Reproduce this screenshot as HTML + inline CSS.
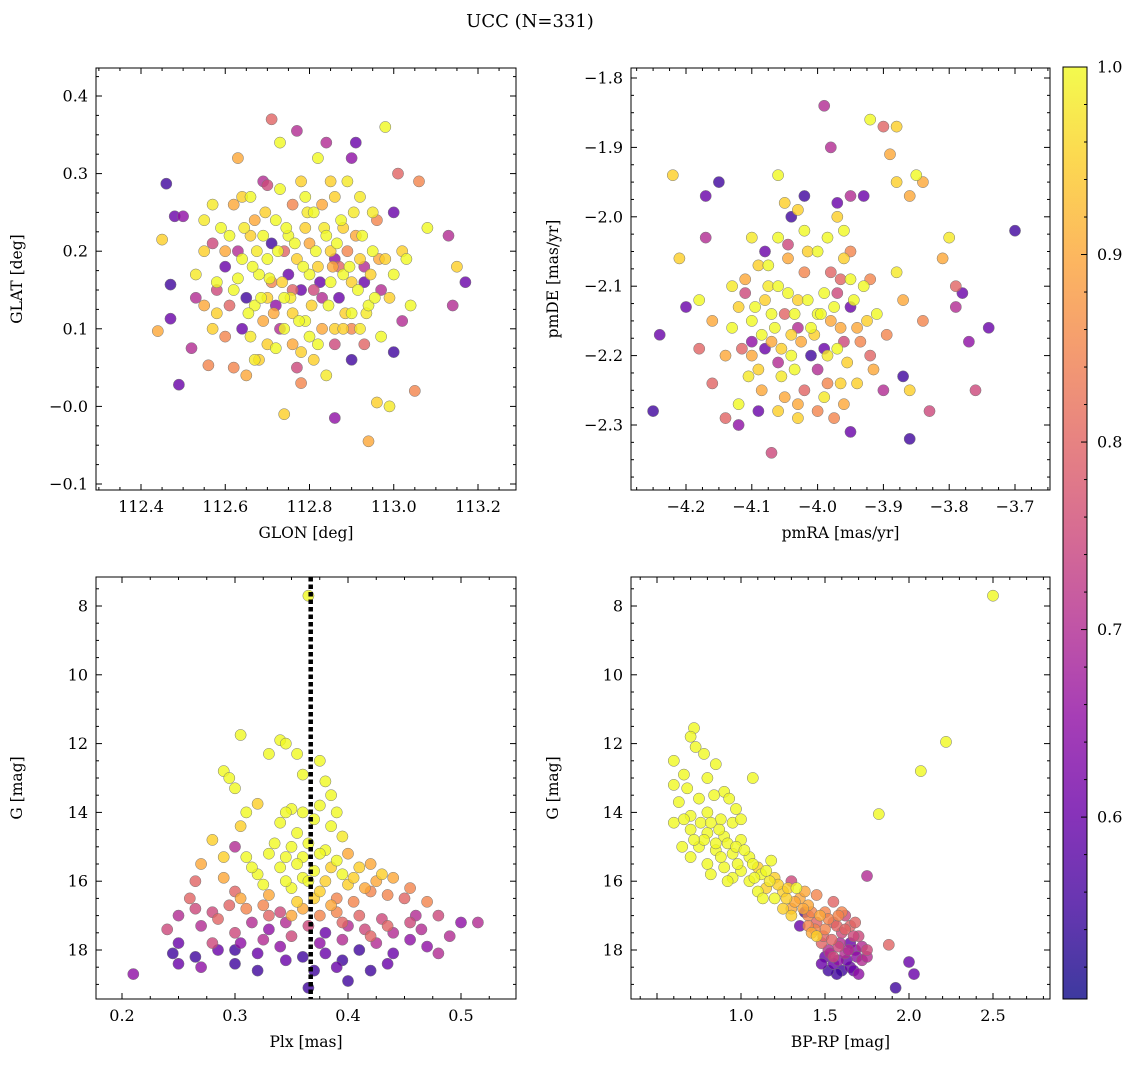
<!DOCTYPE html>
<html><head><meta charset="utf-8">
<style>
html,body{margin:0;padding:0;background:#fff;}
svg{display:block;font-family:"DejaVu Serif","Liberation Serif",serif;}
</style></head>
<body>
<svg id="chart" width="1136" height="1067" viewBox="0 0 1136 1067" xmlns="http://www.w3.org/2000/svg">
<text x="530" y="27" font-size="18" text-anchor="middle">UCC (N=331)</text>
<g id="layer"></g>
</svg>
<script>
// ---- data: [x, y, probability] ----
const glonGlat = [
[112.46,0.287,0.55],[112.47,0.157,0.55],[112.44,0.097,0.9],[112.45,0.215,0.95],[112.48,0.245,0.6],[112.50,0.245,0.65],[112.49,0.028,0.6],[112.47,0.113,0.6],[112.52,0.075,0.7],[112.53,0.17,0.98],[112.55,0.13,0.9],[112.55,0.24,0.98],[112.56,0.053,0.85],[112.57,0.21,0.75],[112.58,0.12,0.95],[112.6,0.18,0.6],[112.61,0.13,0.8],[112.62,0.26,0.9],[112.63,0.32,0.9],[112.63,0.2,0.7],[112.64,0.1,0.6],[112.65,0.04,0.9],[112.66,0.27,1],[112.67,0.24,0.9],[112.68,0.17,1],[112.68,0.06,0.95],[112.69,0.22,1],[112.7,0.14,0.95],[112.7,0.285,0.75],[112.71,0.37,0.8],[112.72,0.075,1],[112.73,0.34,1],[112.74,-0.01,0.95],[112.74,0.2,0.8],[112.75,0.17,0.6],[112.76,0.12,0.95],[112.77,0.355,0.7],[112.78,0.03,0.85],[112.78,0.29,0.95],[112.79,0.23,0.95],[112.8,0.17,1],[112.81,0.06,0.95],[112.82,0.32,1],[112.83,0.14,0.7],[112.83,0.26,0.9],[112.84,0.34,0.7],[112.85,0.2,0.95],[112.86,-0.015,0.65],[112.86,0.1,0.95],[112.87,0.18,0.8],[112.88,0.23,0.95],[112.89,0.29,0.98],[112.9,0.12,1],[112.9,0.32,0.65],[112.91,0.34,0.6],[112.92,0.19,0.95],[112.93,0.08,0.8],[112.94,-0.045,0.9],[112.95,0.25,0.98],[112.96,0.005,0.95],[112.97,0.15,0.7],[112.98,0.36,1],[112.99,0.0,0.98],[113.0,0.25,0.6],[113.0,0.07,0.55],[113.01,0.3,0.8],[113.02,0.2,0.95],[113.04,0.13,1],[113.05,0.02,0.85],[113.06,0.29,0.85],[113.08,0.23,1],[113.13,0.22,0.7],[113.14,0.13,0.7],[113.15,0.18,0.95],[113.17,0.16,0.6],
[112.62,0.15,1],[112.64,0.19,1],[112.66,0.22,0.95],[112.67,0.13,1],[112.69,0.11,0.9],[112.7,0.19,1],[112.71,0.16,0.85],[112.72,0.24,1],[112.73,0.1,0.7],[112.74,0.14,1],[112.75,0.22,1],[112.76,0.08,0.9],[112.77,0.19,0.95],[112.78,0.15,0.6],[112.79,0.11,1],[112.8,0.21,0.9],[112.81,0.25,1],[112.82,0.18,0.95],[112.83,0.1,0.9],[112.84,0.22,1],[112.85,0.16,1],[112.86,0.27,0.95],[112.87,0.14,0.6],[112.88,0.17,1],[112.89,0.2,0.85],[112.9,0.16,0.95],[112.91,0.22,0.9],[112.92,0.1,0.98],[112.93,0.18,0.7],[112.94,0.13,1],[112.95,0.2,1],[112.96,0.24,0.85],[112.97,0.09,1],[112.98,0.19,0.95],[113.0,0.17,1],[113.02,0.11,0.7],[112.6,0.09,0.85],[112.58,0.16,1],[112.57,0.26,0.98],[112.65,0.14,0.55],[112.67,0.06,0.98],[112.72,0.13,0.65],[112.8,0.09,1],[112.86,0.08,0.75],[112.9,0.06,0.55],[112.76,0.26,0.85],[112.69,0.29,0.7],[112.84,0.04,0.98],[112.55,0.2,0.95],[112.53,0.14,0.7],
[112.61,0.22,1],[112.63,0.165,1],[112.645,0.23,0.98],[112.655,0.12,1],[112.665,0.18,1],[112.675,0.2,0.98],[112.685,0.14,1],[112.695,0.25,0.95],[112.705,0.165,1],[112.715,0.12,0.9],[112.725,0.2,1],[112.735,0.16,0.95],[112.745,0.23,1],[112.755,0.14,0.98],[112.765,0.21,1],[112.775,0.11,1],[112.785,0.18,1],[112.795,0.25,0.98],[112.805,0.13,0.95],[112.815,0.2,1],[112.825,0.16,0.6],[112.835,0.23,0.98],[112.845,0.13,1],[112.855,0.18,0.9],[112.865,0.21,1],[112.875,0.24,1],[112.885,0.12,0.95],[112.895,0.18,1],[112.905,0.25,0.98],[112.915,0.15,1],[112.925,0.22,1],[112.935,0.12,0.98],[112.945,0.17,0.95],[112.955,0.14,1],[112.965,0.19,0.9],[112.66,0.09,0.98],[112.7,0.08,0.95],[112.74,0.1,1],[112.78,0.07,0.95],[112.82,0.08,1],[112.88,0.1,0.95],[112.62,0.05,0.85],[112.59,0.23,1],[112.64,0.27,0.95],[112.73,0.28,1],[112.79,0.27,1],[112.85,0.29,0.95],[112.92,0.27,0.98],[112.58,0.15,0.75],[112.71,0.21,0.55],[112.81,0.15,0.75],[112.86,0.19,0.65],[112.93,0.16,0.6],[112.99,0.14,0.95],[113.03,0.19,1],[112.77,0.05,0.75],[112.57,0.1,0.95],[112.6,0.2,0.9],[112.9,0.1,0.85],[112.76,0.15,0.8]
];
const pmraPmde = [
[-4.25,-2.28,0.55],[-4.22,-1.94,0.95],[-4.24,-2.17,0.6],[-4.21,-2.06,0.95],[-4.2,-2.13,0.6],[-4.18,-2.12,1],[-4.17,-1.97,0.6],[-4.17,-2.03,0.7],[-4.16,-2.24,0.8],[-4.15,-1.95,0.55],[-4.14,-2.29,0.8],[-4.12,-2.3,0.65],[-4.11,-2.09,0.9],[-4.1,-2.18,0.65],[-4.09,-2.28,0.6],[-4.08,-2.05,0.6],[-4.07,-2.34,0.75],[-4.06,-1.94,1],[-4.04,-2.0,0.55],[-4.03,-1.99,0.95],[-4.02,-1.97,0.55],[-3.99,-1.84,0.7],[-3.98,-1.9,0.7],[-3.97,-1.98,0.6],[-3.95,-2.31,0.6],[-3.95,-1.97,0.7],[-3.93,-1.97,0.6],[-3.92,-1.86,1],[-3.9,-1.87,0.8],[-3.89,-1.91,0.9],[-3.88,-1.87,0.95],[-3.88,-1.95,0.95],[-3.86,-1.97,0.9],[-3.86,-2.32,0.55],[-3.85,-1.94,1],[-3.84,-1.95,0.9],[-3.83,-2.28,0.75],[-3.81,-2.06,0.9],[-3.8,-2.03,0.98],[-3.79,-2.1,0.8],[-3.79,-2.13,0.7],[-3.77,-2.18,0.65],[-3.76,-2.25,0.75],[-3.74,-2.16,0.6],[-3.7,-2.02,0.55],[-3.78,-2.11,0.6],[-3.87,-2.23,0.55],[-3.86,-2.25,0.95],[-3.9,-2.25,0.7],[-3.91,-2.14,1],[-3.92,-2.2,0.8],[-3.84,-2.15,0.85],[-4.12,-2.27,1],[-4.03,-2.29,0.95],
[-4.1,-2.15,1],[-4.08,-2.12,0.95],[-4.07,-2.18,0.9],[-4.06,-2.1,1],[-4.05,-2.14,0.8],[-4.04,-2.2,1],[-4.03,-2.12,0.95],[-4.02,-2.08,0.85],[-4.01,-2.16,1],[-4.0,-2.22,0.7],[-3.99,-2.11,1],[-3.98,-2.15,0.9],[-3.97,-2.19,1],[-3.96,-2.06,0.95],[-3.95,-2.13,0.6],[-3.94,-2.24,0.95],[-3.93,-2.1,1],[-4.09,-2.22,0.95],[-4.11,-2.11,0.75],[-4.0,-2.05,1],[-3.99,-2.26,0.98],[-4.02,-2.25,0.8],[-4.05,-2.26,0.9],[-4.06,-2.03,1],[-3.97,-2.0,0.95],[-3.96,-2.18,0.75],[-4.08,-2.19,0.6],[-4.04,-2.17,0.95],[-3.98,-2.08,0.8],[-4.01,-2.2,0.55],[-4.07,-2.14,1],[-4.1,-2.2,0.9],[-3.95,-2.05,0.85],[-4.0,-2.14,1],[-4.03,-2.16,0.7],[-3.94,-2.16,0.9],[-4.13,-2.16,1],[-4.14,-2.2,0.9],[-4.0,-2.28,0.85],[-3.96,-2.27,0.9],[-4.09,-2.07,0.95],[-3.92,-2.09,0.85],
[-4.095,-2.13,1],[-4.085,-2.17,1],[-4.075,-2.1,0.98],[-4.065,-2.16,1],[-4.055,-2.19,0.95],[-4.045,-2.11,1],[-4.035,-2.14,1],[-4.025,-2.18,0.9],[-4.015,-2.12,1],[-4.005,-2.17,0.95],[-3.995,-2.14,1],[-3.985,-2.2,0.98],[-3.975,-2.13,1],[-3.965,-2.16,0.9],[-3.955,-2.21,0.95],[-3.945,-2.12,1],[-3.935,-2.18,0.85],[-4.105,-2.23,0.98],[-4.085,-2.25,0.9],[-4.055,-2.23,0.98],[-4.035,-2.22,1],[-3.985,-2.24,0.85],[-3.965,-2.24,0.95],[-4.075,-2.07,1],[-4.045,-2.06,0.9],[-4.015,-2.05,0.95],[-3.985,-2.03,1],[-3.965,-2.09,0.8],[-4.12,-2.13,0.95],[-4.13,-2.1,0.98],[-4.115,-2.19,0.8],[-3.925,-2.15,0.95],[-3.915,-2.22,0.9],[-3.895,-2.17,0.85],[-4.03,-2.27,0.9],[-3.975,-2.29,0.85],[-4.06,-2.28,0.95],[-4.045,-2.04,0.75],[-4.02,-2.02,1],[-3.99,-2.19,0.6],[-4.06,-2.21,0.7],[-3.97,-2.11,0.75],[-4.16,-2.15,0.9],[-4.18,-2.19,0.8],[-3.88,-2.08,0.98],[-3.87,-2.12,0.9],[-4.05,-1.98,0.95],[-3.96,-2.02,1],[-4.1,-2.03,0.98],[-3.95,-2.09,1]
];
const plxG = [
[0.365,7.7,1],[0.305,11.75,1],[0.34,11.9,1],[0.345,12.0,1],[0.355,12.3,1],[0.29,12.8,1],[0.295,13.0,1],[0.36,12.9,1],[0.375,12.5,1],[0.38,13.1,1],[0.385,13.5,1],[0.3,13.3,1],[0.32,13.75,0.95],[0.35,13.9,1],[0.36,14.0,1],[0.37,14.2,1],[0.39,14.0,1],[0.34,14.3,1],[0.305,14.4,0.95],[0.28,14.8,0.95],
[0.3,15.0,0.7],[0.31,15.3,1],[0.33,15.2,1],[0.35,15.0,1],[0.36,15.3,1],[0.38,15.1,1],[0.39,15.4,1],[0.4,15.2,0.9],[0.41,15.6,0.95],[0.42,15.5,0.9],[0.43,15.8,0.95],[0.44,15.9,0.9],[0.27,15.5,0.9],[0.29,15.9,0.9],[0.32,15.8,1],[0.34,15.6,1],[0.37,15.7,1],[0.38,16.0,0.95],[0.4,16.1,0.95],[0.35,16.2,1],[0.33,16.4,0.9],[0.3,16.3,0.8],[0.42,16.3,0.85],[0.45,16.5,0.8],[0.47,16.6,0.85],[0.26,16.5,0.8],[0.28,16.9,0.75],[0.31,16.8,0.85],[0.33,17.0,0.8],[0.36,16.8,0.9],[0.39,16.9,0.85],[0.41,17.0,0.8],[0.43,17.1,0.75],[0.46,17.0,0.7],[0.48,17.0,0.75],[0.25,17.0,0.7],[0.24,17.4,0.75],[0.27,17.3,0.7],[0.3,17.5,0.75],[0.33,17.4,0.65],[0.35,17.6,0.75],[0.38,17.5,0.6],[0.4,17.3,0.7],[0.42,17.6,0.8],[0.44,17.5,0.7],[0.5,17.2,0.65],[0.515,17.2,0.7],[0.25,17.8,0.6],[0.28,17.8,0.75],[0.3,18.0,0.55],[0.32,18.1,0.6],[0.34,17.9,0.65],[0.36,18.2,0.55],[0.38,18.1,0.6],[0.41,18.0,0.55],[0.44,18.1,0.6],[0.47,17.9,0.65],[0.48,18.1,0.7],[0.245,18.1,0.55],[0.25,18.4,0.6],[0.27,18.5,0.65],[0.3,18.4,0.55],[0.32,18.6,0.55],[0.37,18.6,0.55],[0.39,18.5,0.6],[0.42,18.6,0.55],[0.21,18.7,0.65],[0.365,19.1,0.55],[0.4,18.9,0.55],[0.35,17.0,0.9],[0.37,16.5,0.95],[0.39,16.5,0.85],[0.36,15.9,1],[0.34,16.9,0.75],
[0.355,14.6,1],[0.365,14.9,1],[0.375,15.2,1],[0.345,15.3,1],[0.385,15.6,0.95],[0.395,15.8,1],[0.355,15.5,1],[0.365,16.0,1],[0.375,16.3,0.95],[0.345,16.0,1],[0.325,16.1,1],[0.315,15.6,1],[0.405,15.9,0.95],[0.415,16.2,0.9],[0.425,16.0,0.9],[0.435,16.4,0.85],[0.355,16.6,0.95],[0.385,16.7,0.9],[0.405,16.6,0.85],[0.325,16.7,0.85],[0.305,16.5,0.9],[0.295,16.7,0.8],[0.375,17.0,0.85],[0.395,17.2,0.8],[0.365,17.3,0.75],[0.345,17.2,0.7],[0.415,17.4,0.75],[0.435,17.3,0.8],[0.455,17.2,0.75],[0.315,17.2,0.7],[0.285,17.1,0.8],[0.265,16.8,0.75],[0.395,17.7,0.7],[0.375,17.8,0.65],[0.425,17.8,0.7],[0.455,17.7,0.65],[0.325,17.7,0.7],[0.305,17.8,0.65],[0.345,18.3,0.6],[0.395,18.3,0.55],[0.435,18.4,0.6],[0.265,18.2,0.55],[0.285,18.0,0.6],[0.335,14.9,1],[0.385,14.4,1],[0.395,14.7,0.98],[0.345,14.0,1],[0.375,13.8,1],[0.33,12.3,1],[0.31,14.0,1],[0.29,15.3,0.95],[0.265,16.0,0.8],[0.455,16.2,0.85],[0.465,17.4,0.7],[0.49,17.6,0.7]
];
const bprpG = [
[2.5,7.7,1],[2.22,11.95,1],[2.07,12.8,1],[1.82,14.05,1],[1.75,15.85,0.7],[1.88,17.85,0.8],[1.92,19.1,0.55],[2.0,18.35,0.6],[2.03,18.7,0.6],[0.72,11.55,1],[0.7,11.8,1],[0.6,12.5,1],[0.78,12.3,1],[0.85,12.6,1],[0.8,13.0,1],[1.07,13.0,1],[0.6,13.2,1],[0.68,13.3,1],[0.9,13.4,1],[0.63,13.7,1],[0.75,13.6,1],[0.93,13.6,1],[0.6,14.3,1],[0.7,14.1,1],[0.8,14.0,1],[0.88,14.2,1],[0.95,14.3,1],[0.7,14.5,1],[0.8,14.6,1],[0.9,14.7,1],[1.0,14.8,1],[0.65,15.0,1],[0.75,15.0,1],[0.85,15.1,1],[0.95,15.2,1],[1.05,15.3,1],[0.7,15.3,1],[0.8,15.5,1],[0.9,15.6,1],[1.0,15.7,1],[1.1,15.6,0.95],[1.2,15.9,0.95],[1.05,16.0,1],[1.15,16.2,0.95],[1.25,16.3,0.95],[1.3,16.0,0.75],[1.35,16.5,0.9],[1.4,16.7,0.9],[1.45,16.4,0.85],[1.5,16.9,0.85],[1.55,16.6,0.8],[1.2,16.5,1],[1.3,16.8,0.9],[1.4,17.0,0.85],[1.45,17.2,0.8],[1.5,17.4,0.85],[1.55,17.2,0.8],[1.6,17.5,0.75],[1.65,17.3,0.8],[1.7,17.6,0.75],[1.42,17.5,0.9],[1.48,17.8,0.8],[1.52,18.0,0.7],[1.58,17.9,0.75],[1.62,18.1,0.7],[1.68,18.0,0.65],[1.72,18.3,0.7],[1.5,18.2,0.6],[1.55,18.4,0.6],[1.6,18.6,0.55],[1.65,18.5,0.6],[1.7,18.7,0.65],[1.57,18.7,0.55],[1.75,18.2,0.7],[1.75,18.0,0.75],[1.35,17.3,0.6],[1.25,16.8,0.95],[1.1,16.3,1],[0.95,15.9,1],[1.6,16.9,0.85],[1.45,17.6,0.95],[1.38,16.9,0.55],[1.55,18.2,0.75],[1.65,17.8,0.6],[0.85,14.9,1],[0.76,14.3,1],[1.18,15.4,1],[1.33,16.2,1],[1.62,17.0,0.75],
[0.82,14.3,1],[0.87,14.5,1],[0.92,14.9,1],[0.97,15.0,1],[1.02,15.1,1],[1.07,15.5,1],[1.12,15.8,1],[1.17,16.0,0.98],[1.22,16.1,0.95],[1.27,16.5,0.95],[1.32,16.6,0.9],[1.37,16.8,0.9],[1.42,16.9,0.85],[1.47,17.0,0.9],[1.52,17.1,0.85],[1.57,17.3,0.8],[1.62,17.4,0.8],[1.67,17.6,0.75],[1.44,17.4,0.85],[1.49,17.6,0.8],[1.54,17.7,0.8],[1.59,17.8,0.7],[1.64,18.0,0.7],[1.69,18.2,0.65],[1.53,18.1,0.7],[1.58,18.3,0.65],[1.63,18.3,0.6],[1.67,18.6,0.6],[0.78,14.8,1],[0.88,15.3,1],[0.98,15.5,1],[1.08,15.9,1],[1.15,15.7,1],[1.28,16.2,0.95],[1.38,16.3,0.9],[0.72,14.8,1],[0.66,14.2,1],[0.82,15.8,1],[0.92,16.0,1],[1.13,16.5,1],[1.3,17.0,0.95],[1.4,17.3,0.85],[1.48,18.4,0.6],[1.52,18.6,0.55],[1.72,17.9,0.7],[1.58,17.0,0.85],[1.68,17.2,0.8],[0.66,12.9,1],[0.73,12.1,1],[0.84,13.5,1],[0.97,13.9,1],[1.0,14.2,1]
];
const plxMedian = [0.367];
const cbTicks = [0.6, 0.7, 0.8, 0.9, 1.0];
const cbRange = [0.503, 1.0];

const NS = "http://www.w3.org/2000/svg";
const layer = document.getElementById('layer');
const plasma = ['#0d0887','#41049d','#6a00a8','#8f0da4','#b12a90','#cc4778','#e16462','#f2844b','#fca636','#fcce25','#f0f921'];
function hex(c){return [1,3,5].map(i=>parseInt(c.substr(i,2),16));}
function cmap(p){
  let t=(p-cbRange[0])/(cbRange[1]-cbRange[0]); t=Math.max(0,Math.min(1,t));
  const f=t*10, i=Math.min(9,Math.floor(f)), r=f-i;
  const a=hex(plasma[i]), b=hex(plasma[i+1]);
  return 'rgb('+a.map((v,k)=>Math.round(v+(b[k]-v)*r)).join(',')+')';
}
function mk(tag, attrs, parent){
  const e=document.createElementNS(NS,tag);
  for(const k in attrs) e.setAttribute(k,attrs[k]);
  (parent||layer).appendChild(e); return e;
}
function fmt(v,d){return (v<0?'\u2212':'')+Math.abs(v).toFixed(d);}

const panels = [
 {name:'glon-glat', data:glonGlat, box:[96,68,516,490], x0:112.4,px0:141,kx:421.25, y0:0.4,py0:96,ky:-776,
  xt:[112.4,113.2,0.2,0.05,1], yt:[-0.1,0.4,0.1,0.025,1], xl:'GLON [deg]', yl:'GLAT [deg]'},
 {name:'pmra-pmde', data:pmraPmde, box:[631,68,1050,490], x0:-4.2,px0:686,kx:658, y0:-1.8,py0:78,ky:-694,
  xt:[-4.2,-3.7,0.1,0.025,1], yt:[-2.3,-1.8,0.1,0.025,1], xl:'pmRA [mas/yr]', yl:'pmDE [mas/yr]'},
 {name:'plx-g', data:plxG, box:[96,577,516,999], x0:0.2,px0:122,kx:1130, y0:8,py0:606,ky:34.4,
  xt:[0.2,0.5,0.1,0.025,1], yt:[8,18,2,0.5,0], xl:'Plx [mas]', yl:'G [mag]'},
 {name:'bprp-g', data:bprpG, box:[631,577,1050,999], x0:1.0,px0:741,kx:168, y0:8,py0:606,ky:34.4,
  xt:[1.0,2.5,0.5,0.1,1], yt:[8,18,2,0.5,0], xl:'BP-RP [mag]', yl:'G [mag]'}
];

panels.forEach(P=>{
  const [L,T,R,B]=P.box;
  const sx=v=>P.px0+(v-P.x0)*P.kx, sy=v=>P.py0+(v-P.y0)*P.ky;
  const g=mk('g',{});
  
  
  const pts=mk('g',{},g);
  
  
  const sorted=P.data.slice().sort((a,b)=>a[2]-b[2]);
  sorted.forEach(d=>{
    const c=mk('circle',{cx:sx(d[0]).toFixed(1),cy:sy(d[1]).toFixed(1),r:5.6,fill:cmap(d[2]),'fill-opacity':0.8,stroke:'#777','stroke-width':0.5},pts);
    
    
  });
  if(P.name==='plx-g'){
    const ln=mk('line',{x1:sx(plxMedian[0]),x2:sx(plxMedian[0]),y1:T,y2:B,stroke:'#000','stroke-width':4.5,'stroke-dasharray':'4.5,3'},g);
    
    
  }
  const fr=mk('rect',{x:L,y:T,width:R-L,height:B-T,fill:'none',stroke:'#000','stroke-width':1},g);
  
  
  const xa=P.xt, ya=P.yt;
  const xlo=P.x0+(L-P.px0)/P.kx, xhi=P.x0+(R-P.px0)/P.kx;
  for(let v=Math.ceil(xlo/xa[3]-1e-6)*xa[3]; v<=xhi+1e-9; v+=xa[3]){
    const x=sx(v); const maj=Math.abs(v/xa[2]-Math.round(v/xa[2]))<1e-6;
    const len=maj?6:3;
    mk('line',{x1:x,x2:x,y1:B,y2:B-len,stroke:'#000'},g);
    mk('line',{x1:x,x2:x,y1:T,y2:T+len,stroke:'#000'},g);
    if(maj && v>=xa[0]-1e-9 && v<=xa[1]+1e-9){
      const t=mk('text',{x:x,y:B+22,'font-size':16,'text-anchor':'middle'},g);
      t.textContent=fmt(v,xa[4]);
      
      
    }
  }
  const ya1=P.y0+(T-P.py0)/P.ky, ya2=P.y0+(B-P.py0)/P.ky;
  const ylo=Math.min(ya1,ya2), yhi=Math.max(ya1,ya2);
  for(let v=Math.ceil(ylo/ya[3]-1e-6)*ya[3]; v<=yhi+1e-9; v+=ya[3]){
    const y=sy(v); const maj=Math.abs(v/ya[2]-Math.round(v/ya[2]))<1e-6;
    const len=maj?6:3;
    mk('line',{x1:L,x2:L+len,y1:y,y2:y,stroke:'#000'},g);
    mk('line',{x1:R,x2:R-len,y1:y,y2:y,stroke:'#000'},g);
    if(maj && v>=ya[0]-1e-9 && v<=ya[1]+1e-9){
      const t=mk('text',{x:L-8,y:y+5.5,'font-size':16,'text-anchor':'end'},g);
      t.textContent=fmt(v,ya[4]);
      
      
    }
  }
  const xlab=mk('text',{x:(L+R)/2,y:B+48,'font-size':15.5,'text-anchor':'middle'},g);
  xlab.textContent=P.xl;
  
  
  const lx=P.name.startsWith('glon')||P.name.startsWith('plx')?22:558;
  const ylab=mk('text',{x:lx,y:(T+B)/2,'font-size':15.5,'text-anchor':'middle',transform:'rotate(-90 '+lx+' '+((T+B)/2)+')'},g);
  ylab.textContent=P.yl;
  
  
});

(function(){
  const L=1063,R=1087,T=67,B=999;
  const cy=v=>T+(cbRange[1]-v)*(B-T)/(cbRange[1]-cbRange[0]);
  const defs=mk('defs',{});
  const lg=mk('linearGradient',{id:'cbg',x1:0,y1:1,x2:0,y2:0},defs);
  plasma.forEach((c,i)=>mk('stop',{offset:i/10,'stop-color':c,'stop-opacity':0.8},lg));
  const g=mk('g',{});
  
  
  mk('rect',{x:L,y:T,width:R-L,height:B-T,fill:'url(#cbg)',stroke:'#000','stroke-width':1},g);
  for(let v=0.52; v<=1.0001; v+=0.02){
    const y=cy(v); const maj=Math.abs(v*10-Math.round(v*10))<1e-6;
    mk('line',{x1:R,x2:R-(maj?6:3),y1:y,y2:y,stroke:'#000'},g);
  }
  cbTicks.forEach(v=>{
    const t=mk('text',{x:R+10,y:cy(v)+5.5,'font-size':16},g);
    t.textContent=v.toFixed(1);
    
    
  });
})();
</script>
</body></html>
